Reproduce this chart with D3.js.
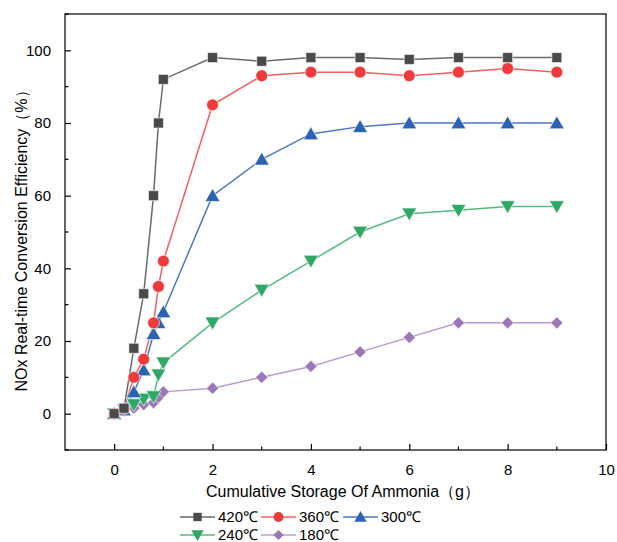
<!DOCTYPE html>
<html>
<head>
<meta charset="utf-8">
<script src="https://cdn.jsdelivr.net/npm/d3@7"></script>
<style>
  body { margin: 0; background: #fff; }
  text { font-family: "Liberation Sans", Arial, sans-serif; }
</style>
</head>
<body>
<div id="chart"></div>
<script>
// data
var storage = [0, 0.2, 0.4, 0.6, 0.8, 0.9, 1, 2, 3, 4, 5, 6, 7, 8, 9]
var eff420 = [0, 1.5, 18, 33, 60, 80, 92, 98, 97, 98, 98, 97.5, 98, 98, 98]
var eff360 = [0, 1.4, 10, 15, 25, 35, 42, 85, 93, 94, 94, 93, 94, 95, 94]
var eff300 = [0, 1, 6, 12, 22, 25, 28, 60, 70, 77, 79, 80, 80, 80, 80]
var eff240 = [0, 1, 2.5, 4, 4.7, 10.7, 14, 25, 34, 42, 50, 55, 56, 57, 57]
var eff180 = [0, 1, 1.5, 2.5, 3, 4.5, 6, 7, 10, 13, 17, 21, 25, 25, 25]
var seriesNames = ["420℃", "360℃", "300℃", "240℃", "180℃"]
var xTicks = [0, 2, 4, 6, 8, 10]
var yTicks = [0, 20, 40, 60, 80, 100]

var width = 617
var height = 542
var margin = {left: 65, right: 11, top: 14, bottom: 92}

var series = [
  {name: seriesNames[0], values: eff420, symbol: d3.symbolSquare, color: "#4a4a4a", line: "#6a6a6a", rot: 0, size: 100},
  {name: seriesNames[1], values: eff360, symbol: d3.symbolCircle, color: "#ee3a3a", line: "#f06060", rot: 0, size: 110},
  {name: seriesNames[2], values: eff300, symbol: d3.symbolTriangle, color: "#2c62b4", line: "#4b78c6", rot: 0, size: 95},
  {name: seriesNames[3], values: eff240, symbol: d3.symbolTriangle, color: "#2ea865", line: "#55bb80", rot: 180, size: 95},
  {name: seriesNames[4], values: eff180, symbol: d3.symbolSquare, color: "#9c78b8", line: "#b89ccf", rot: 45, size: 75}
]

function symShift(s) {
  if (s.symbol !== d3.symbolTriangle) return 0
  return s.rot ? -1.5 : 1.5
}

var svg = d3.select("#chart")
  .append("svg")
  .attr("width", width)
  .attr("height", height)

var x = d3.scaleLinear().domain([-1, 10]).range([margin.left, width - margin.right])
var y = d3.scaleLinear().domain([-10, 110]).range([height - margin.bottom, margin.top])

// frame
svg.append("rect")
  .attr("x", x(-1)).attr("y", y(110))
  .attr("width", x(10) - x(-1)).attr("height", y(-10) - y(110))
  .attr("fill", "none").attr("stroke", "#000").attr("stroke-width", 1.2)

// x axis, ticks pointing inward
var xAxis = svg.append("g").attr("transform", "translate(0," + y(-10) + ")")
xAxis.call(d3.axisBottom(x).tickValues(xTicks).tickSize(-6).tickPadding(14).tickFormat(d3.format("d")))
xAxis.selectAll(".tick text").attr("font-size", 15).attr("fill", "#000")
xAxis.select(".domain").remove()
xAxis.selectAll(".tick line").attr("stroke-width", 1.2)
xAxis.selectAll(".minor").data([1, 3, 5, 7, 9]).enter().append("line")
  .attr("x1", function(d) { return x(d) }).attr("x2", function(d) { return x(d) })
  .attr("y1", 0).attr("y2", -3.5).attr("stroke", "#000").attr("stroke-width", 1.2)

var yAxis = svg.append("g").attr("transform", "translate(" + x(-1) + ",0)")
yAxis.call(d3.axisLeft(y).tickValues(yTicks).tickSize(-6).tickPadding(14))
yAxis.selectAll(".tick text").attr("font-size", 15).attr("fill", "#000")
yAxis.select(".domain").remove()
yAxis.selectAll(".tick line").attr("stroke-width", 1.2)
yAxis.selectAll(".minor").data([-10, 10, 30, 50, 70, 90, 110]).enter().append("line")
  .attr("y1", function(d) { return y(d) }).attr("y2", function(d) { return y(d) })
  .attr("x1", 0).attr("x2", 3.5).attr("stroke", "#000").attr("stroke-width", 1.2)

// axis titles
svg.append("text")
  .attr("x", 343).attr("y", 497)
  .attr("text-anchor", "middle").attr("font-size", 16)
  .text("Cumulative Storage Of Ammonia（g）")

svg.append("text")
  .attr("transform", "translate(27,237) rotate(-90)")
  .attr("text-anchor", "middle").attr("font-size", 16)
  .text("NOx Real-time Conversion Efficiency（%）")

var line = d3.line()
  .x(function(d) { return x(d[0]) })
  .y(function(d) { return y(d[1]) })

// draw from the bottom series up so the top ones sit above
series.slice().reverse().forEach(function(s) {
  var pts = storage.map(function(v, i) { return [v, s.values[i]] })
  svg.append("path")
    .datum(pts)
    .attr("d", line)
    .attr("fill", "none")
    .attr("stroke", s.line)
    .attr("stroke-width", 1.5)
})

series.slice().reverse().forEach(function(s) {
  var pts = storage.map(function(v, i) { return [v, s.values[i]] })
  var sym = d3.symbol().type(s.symbol).size(s.size)
  svg.selectAll(null)
    .data(pts)
    .enter()
    .append("path")
    .attr("d", sym)
    .attr("transform", function(d) {
      return "translate(" + x(d[0]) + "," + (y(d[1]) + symShift(s)) + ") rotate(" + s.rot + ")"
    })
    .attr("fill", s.color)
    .attr("stroke", "#fff")
    .attr("stroke-width", 0.6)
})

// legend
var legendPos = [[180, 517], [261, 517], [343, 517], [180, 535], [261, 535]]
series.forEach(function(s, i) {
  var g = svg.append("g").attr("transform", "translate(" + legendPos[i][0] + "," + legendPos[i][1] + ")")
  g.append("line").attr("x1", 0).attr("x2", 35).attr("y1", 0).attr("y2", 0)
    .attr("stroke", s.line).attr("stroke-width", 1.5)
  g.append("path")
    .attr("d", d3.symbol().type(s.symbol).size(s.size * 0.7))
    .attr("transform", "translate(17.5," + symShift(s) * 0.7 + ") rotate(" + s.rot + ")")
    .attr("fill", s.color)
  g.append("text")
    .attr("x", 38).attr("y", 5)
    .attr("font-size", 15)
    .text(s.name)
})
</script>
</body>
</html>
